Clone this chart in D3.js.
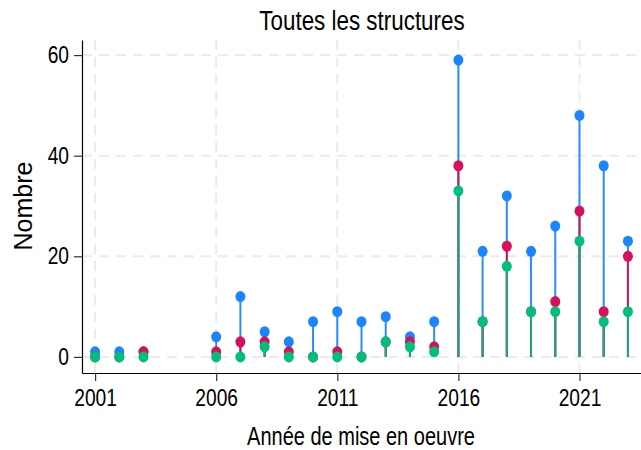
<!DOCTYPE html>
<html>
<head>
<meta charset="utf-8">
<script src="https://cdn.jsdelivr.net/npm/d3@7"></script>
<style>
  body { margin: 0; background: #fff; }
  svg { display: block; }
  .narrow { font-family: "Liberation Sans", Arial, sans-serif; }
</style>
</head>
<body>
<div id="chart"></div>
<script>
const years = [2001, 2002, 2003, 2006, 2007, 2008, 2009, 2010, 2011, 2012, 2013, 2014, 2015,
  2016, 2017, 2018, 2019, 2020, 2021, 2022, 2023];
const serieBleue = [1, 1, 1, 4, 12, 5, 3, 7, 9, 7, 8, 4, 7, 59, 21, 32, 21, 26, 48, 38, 23];
const serieRouge = [0, 0, 1, 1, 3, 3, 1, 0, 1, 0, 3, 3, 2, 38, 7, 22, 9, 11, 29, 9, 20];
const serieVerte = [0, 0, 0, 0, 0, 2, 0, 0, 0, 0, 3, 2, 1, 33, 7, 18, 9, 9, 23, 7, 9];
const xTicks = [2001, 2006, 2011, 2016, 2021];
const yTicks = [0, 20, 40, 60];

const series = [
  { values: serieBleue, dot: "#1a85ff", line: "#2a8cf5" },
  { values: serieRouge, dot: "#d41159", line: "#c81a5e" },
  { values: serieVerte, dot: "#00bf7d", line: "#1ea57f" },
];

var width = 641, height = 450;
var margin = { left: 82, right: 641, top: 40, bottom: 373 };
var squeeze = 0.8;

var x = d3.scaleLinear().domain([2000.46, 2023.54]).range([margin.left, margin.right]);
var y = d3.scaleLinear().domain([-3.2, 63]).range([margin.bottom, margin.top]);

var svg = d3.select("#chart").append("svg")
  .attr("width", width).attr("height", height);

// grille
svg.append("g").selectAll("line").data(yTicks).enter().append("line")
  .attr("x1", margin.left).attr("x2", margin.right)
  .attr("y1", d => y(d)).attr("y2", d => y(d))
  .attr("stroke", "#ebebeb").attr("stroke-width", 2)
  .attr("stroke-dasharray", "10,7");

svg.append("g").selectAll("line").data(xTicks).enter().append("line")
  .attr("x1", d => x(d)).attr("x2", d => x(d))
  .attr("y1", margin.top).attr("y2", margin.bottom)
  .attr("stroke", "#ebebeb").attr("stroke-width", 2)
  .attr("stroke-dasharray", "10,7");

// tiges
series.forEach(s => {
  svg.append("g").selectAll("line").data(years).enter().append("line")
    .attr("x1", d => x(d)).attr("x2", d => x(d))
    .attr("y1", y(0))
    .attr("y2", (d, i) => y(s.values[i]))
    .attr("stroke", s.line).attr("stroke-width", 2);
});

// points
series.forEach(s => {
  svg.append("g").selectAll("ellipse").data(years).enter().append("ellipse")
    .attr("cx", d => x(d))
    .attr("cy", (d, i) => y(s.values[i]))
    .attr("rx", 5).attr("ry", 5.5)
    .attr("fill", s.dot);
});

// axes
svg.append("g")
  .attr("transform", "translate(0," + margin.bottom + ")")
  .call(d3.axisBottom(x).tickValues(xTicks).tickFormat(d3.format("d")).tickSizeInner(8).tickSizeOuter(0).tickPadding(8))
  .call(g => g.select(".domain").attr("stroke", "#000").attr("stroke-width", 1.2))
  .call(g => g.selectAll(".tick line").attr("stroke", "#333").attr("stroke-width", 1.2))
  .selectAll("text")
  .attr("class", "narrow")
  .attr("transform", "scale(" + squeeze + ",1)")
  .style("font-size", "24px")
  .attr("fill", "#000");

svg.append("g")
  .attr("transform", "translate(" + margin.left + ",0)")
  .call(d3.axisLeft(y).tickValues(yTicks).tickSizeInner(8).tickSizeOuter(0).tickPadding(5))
  .call(g => g.select(".domain").attr("stroke", "#000").attr("stroke-width", 1.2))
  .call(g => g.selectAll(".tick line").attr("stroke", "#333").attr("stroke-width", 1.2))
  .selectAll("text")
  .attr("class", "narrow")
  .attr("x", -13 / squeeze)
  .attr("transform", "scale(" + squeeze + ",1)")
  .style("font-size", "24px")
  .attr("fill", "#000");

// titres
svg.append("text")
  .attr("class", "narrow")
  .attr("transform", "translate(362,30) scale(" + squeeze + ",1)")
  .attr("text-anchor", "middle")
  .style("font-size", "28px")
  .text("Toutes les structures");

svg.append("text")
  .attr("class", "narrow")
  .attr("transform", "translate(361,445) scale(" + squeeze + ",1)")
  .attr("text-anchor", "middle")
  .style("font-size", "25px")
  .text("Année de mise en oeuvre");

svg.append("text")
  .attr("transform", "translate(32,206) rotate(-90)")
  .attr("text-anchor", "middle")
  .style("font-family", "'Liberation Sans', Arial, sans-serif")
  .style("font-size", "25px")
  .text("Nombre");
</script>
</body>
</html>
